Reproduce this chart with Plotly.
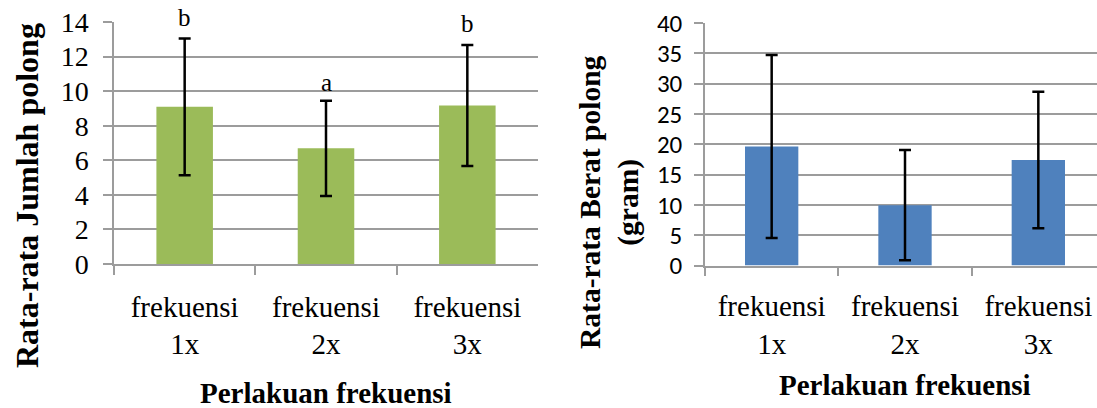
import plotly.graph_objects as go

# Treatment categories
categories = ["frekuensi 1x", "frekuensi 2x", "frekuensi 3x"]
tick_text = ["frekuensi<br>1x", "frekuensi<br>2x", "frekuensi<br>3x"]

# Mean pod count and standard deviation
jumlah_mean = [9.09, 6.69, 9.17]
jumlah_sd = [3.95, 2.75, 3.50]
jumlah_notasi = ["b", "a", "b"]

# Mean pod weight (gram) and standard deviation
berat_mean = [19.64, 9.95, 17.39]
berat_sd = [15.1, 9.1, 11.25]

GREEN = "#9BBB59"
BLUE = "#4F81BD"
GRID = "#9C9C9C"
SERIF = "Liberation Serif, Times New Roman, serif"
SANS = "Carlito, Liberation Sans, Arial, sans-serif"

W, H = 1097, 408

fig = go.Figure()

fig.add_trace(go.Bar(
    x=categories, y=jumlah_mean, marker_color=GREEN, marker_line_width=0,
    error_y=dict(type="data", array=jumlah_sd, visible=True,
                 color="black", thickness=2.5, width=6),
    xaxis="x", yaxis="y", showlegend=False,
))
fig.add_trace(go.Bar(
    x=categories, y=berat_mean, marker_color=BLUE, marker_line_width=0,
    error_y=dict(type="data", array=berat_sd, visible=True,
                 color="black", thickness=2.5, width=6),
    xaxis="x2", yaxis="y2", showlegend=False,
))

common_x = dict(
    type="category", tickmode="array", tickvals=categories, ticktext=tick_text,
    tickson="boundaries", ticks="outside", ticklen=9, tickwidth=1.5,
    tickcolor=GRID, showline=True, linecolor=GRID, linewidth=1.5,
    showgrid=False, zeroline=False, automargin=False,
    tickfont=dict(family=SERIF, size=29, color="black"),
)
common_y = dict(
    ticks="outside", ticklen=9, tickwidth=1.5, tickcolor=GRID,
    showline=True, linecolor=GRID, linewidth=1.5, automargin=False,
    showgrid=True, gridcolor=GRID, gridwidth=1.5, zeroline=False,
)

fig.update_layout(
    width=W, height=H,
    margin=dict(l=0, r=0, t=0, b=0),
    paper_bgcolor="white", plot_bgcolor="white",
    bargap=0.6,
    xaxis=dict(common_x, domain=[114 / W, 538 / W], range=[-0.5, 2.5],
               anchor="y", ticklabelstandoff=16),
    yaxis=dict(common_y, domain=[144 / H, 386 / H], range=[0, 14], dtick=2,
               anchor="x", ticklabelstandoff=9,
               tickfont=dict(family=SERIF, size=28, color="black")),
    xaxis2=dict(common_x, domain=[705 / W, 1.0], range=[-0.5, 2.44],
                anchor="y2", ticklabelstandoff=14),
    yaxis2=dict(common_y, domain=[142.5 / H, 385 / H], range=[0, 40], dtick=5,
                anchor="x2", ticklabelstandoff=7,
                tickfont=dict(family=SANS, size=25, color="black")),
)

annotations = []
# Significance letters above the error bars
letter_shift = [6, 3, 6]
for cat, m, sd, txt, ys in zip(categories, jumlah_mean, jumlah_sd,
                               jumlah_notasi, letter_shift):
    annotations.append(dict(
        x=cat, y=m + sd, xref="x", yref="y", text=txt, showarrow=False,
        yanchor="bottom", yshift=ys,
        font=dict(family=SERIF, size=25, color="black"),
    ))

annotations += [
    dict(x=27 / W, y=1 - 196 / H, text="<b>Rata-rata Jumlah polong</b>",
         textangle=-90, font=dict(family=SERIF, size=32, color="black")),
    dict(x=326 / W, y=1 - 393 / H, text="<b>Perlakuan frekuensi</b>",
         font=dict(family=SERIF, size=29, color="black")),
    dict(x=609 / W, y=1 - 202 / H,
         text="<b>Rata-rata Berat polong<br>(gram)</b>", textangle=-90,
         font=dict(family=SERIF, size=29.5, color="black")),
    dict(x=905 / W, y=1 - 385 / H, text="<b>Perlakuan frekuensi</b>",
         font=dict(family=SERIF, size=29, color="black")),
]
for a in annotations[3:]:
    a.update(xref="paper", yref="paper", xanchor="center", yanchor="middle",
             showarrow=False)
fig.update_layout(annotations=annotations)

fig.write_html("out.html")
